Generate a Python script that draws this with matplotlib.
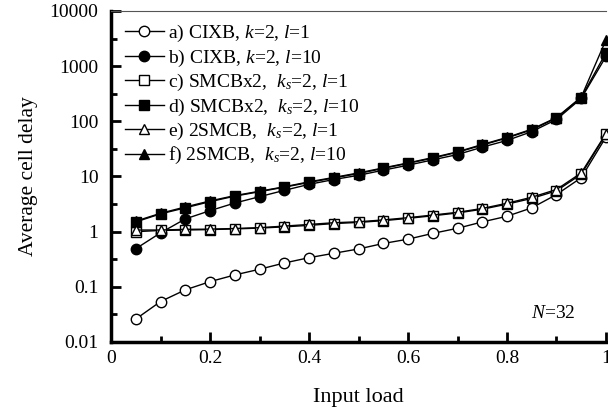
import matplotlib
matplotlib.use("Agg")
import matplotlib.pyplot as plt
from matplotlib.ticker import FixedLocator, NullFormatter

plt.rcParams['font.family'] = ['Liberation Serif', 'DejaVu Serif']
plt.rcParams['mathtext.fontset'] = 'custom'
plt.rcParams['mathtext.rm'] = 'Liberation Serif'
plt.rcParams['mathtext.it'] = 'Liberation Serif:italic'

load = [0.05, 0.10, 0.15, 0.20, 0.25, 0.30, 0.35, 0.40, 0.45, 0.50,
        0.55, 0.60, 0.65, 0.70, 0.75, 0.80, 0.85, 0.90, 0.95, 1.00]

cixb_l1 = [0.026, 0.054, 0.088, 0.124, 0.164, 0.208, 0.27, 0.337, 0.405, 0.485,
           0.61, 0.73, 0.93, 1.15, 1.5, 1.9, 2.7, 4.7, 9.5, 52]
cixb_l10 = [0.49, 0.95, 1.7, 2.4, 3.3, 4.3, 5.6, 7.2, 8.8, 10.5,
            13, 16, 20, 25, 34, 45, 65, 108, 260, 1500]
smcb_l1 = [1.0, 1.05, 1.07, 1.09, 1.12, 1.16, 1.22, 1.3, 1.4, 1.47,
           1.58, 1.74, 1.94, 2.18, 2.55, 3.15, 4.0, 5.5, 11, 58]
smcb_l10 = [1.5, 2.1, 2.7, 3.5, 4.4, 5.3, 6.4, 7.8, 9.4, 11.3,
            14, 17.3, 21.5, 27.5, 37, 50, 70, 115, 270, 1750]
smcb2_l1 = [1.07, 1.07, 1.1, 1.11, 1.14, 1.18, 1.26, 1.35, 1.45, 1.51,
            1.63, 1.79, 2.0, 2.24, 2.63, 3.27, 4.2, 5.8, 11.6, 60]
smcb2_l10 = [1.55, 2.15, 2.8, 3.6, 4.5, 5.4, 6.5, 8.0, 9.6, 11.6,
             14.3, 17.6, 22, 28, 38, 51, 72, 117, 275, 3000]

labels = [r"a) CIXB, $k$=2, $l$=1",
          r"b) CIXB, $k$=2, $l$=10",
          r"c) SMCBx2,  $k_s$=2, $l$=1",
          r"d) SMCBx2,  $k_s$=2, $l$=10",
          r"e) 2SMCB,  $k_s$=2, $l$=1",
          r"f) 2SMCB,  $k_s$=2, $l$=10"]

series = [cixb_l1, cixb_l10, smcb_l1, smcb_l10, smcb2_l1, smcb2_l10]
markers = ['o', 'o', 's', 's', '^', '^']
faces = ['white', 'black', 'white', 'black', 'white', 'black']

fig = plt.figure(figsize=(6.08, 4.15), dpi=100)
ax = fig.add_axes([0.1826, 0.176, 0.8141, 0.7975])

for ys, m, fc, lab in zip(series, markers, faces, labels):
    ax.plot(load, ys, color='black', linewidth=1.0, marker=m, markersize=7.5,
            markerfacecolor=fc, markeredgecolor='black', markeredgewidth=1.0,
            label=lab, clip_on=False)

ax.set_yscale('log')
ax.set_ylim(0.01, 10000)
ax.set_xlim(0, 1)

ax.set_xticks([0, 0.2, 0.4, 0.6, 0.8, 1.0])
ax.set_xticklabels(['0', '0.2', '0.4', '0.6', '0.8', '1'])
ax.xaxis.set_minor_locator(FixedLocator([0.1, 0.3, 0.5, 0.7, 0.9]))
ax.set_yticks([0.01, 0.1, 1, 10, 100, 1000, 10000])
ax.set_yticklabels(['0.01', '0.1', '1', '10', '100', '1000', '10000'])
ax.yaxis.set_minor_locator(FixedLocator([10 ** (e + 0.5) for e in range(-2, 4)]))
ax.yaxis.set_minor_formatter(NullFormatter())

ax.tick_params(which='major', direction='in', length=7, width=2, labelsize=14)
ax.tick_params(axis='y', which='major', pad=9)
ax.tick_params(axis='x', which='major', pad=6)
ax.tick_params(which='minor', direction='in', length=4, width=2)

ax.spines['left'].set_linewidth(2.5)
ax.spines['bottom'].set_linewidth(2.5)
ax.spines['top'].set_linewidth(0.8)
ax.spines['top'].set_color('#555555')
ax.spines['right'].set_visible(False)

ax.set_xlabel('Input load', fontsize=16)
ax.set_ylabel('Average cell delay', fontsize=15.5)
ax.xaxis.set_label_coords(0.5, -0.14)
ax.yaxis.set_label_coords(-0.148, 0.5)

ax.text(0.893, 0.085, '$N$=32', transform=ax.transAxes, fontsize=14,
        ha='center', va='center')

ax.legend(loc='upper left', bbox_to_anchor=(0.02, 0.975), frameon=False,
          fontsize=14, handlelength=2.0, handletextpad=0.2, labelspacing=0.17,
          borderpad=0.2, borderaxespad=0)

fig.savefig('out.png', dpi=100)
